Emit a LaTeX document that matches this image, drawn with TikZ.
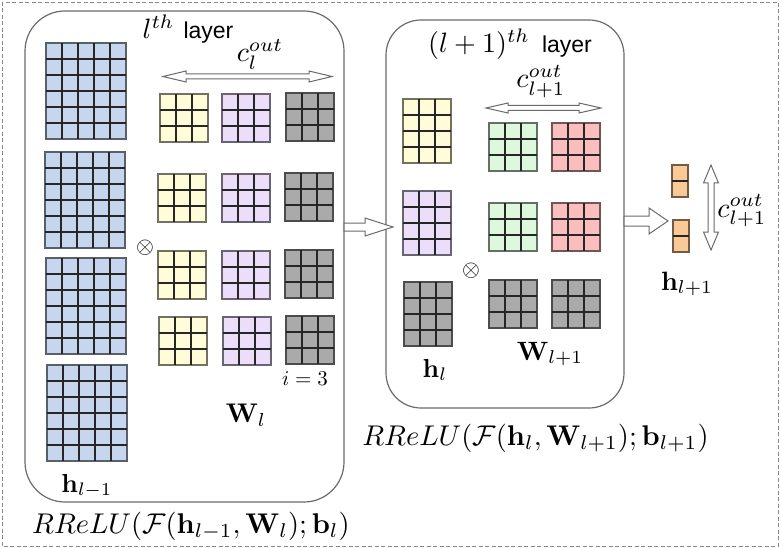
\documentclass[tikz,border=0pt]{standalone}
\usepackage[no-math]{fontspec}
\usepackage{graphicx}
\newfontfamily\hv{Liberation Sans}
\usetikzlibrary{calc}
\definecolor{cblue}{HTML}{C6D6EE}
\definecolor{cyel}{HTML}{FFFDD7}
\definecolor{cpur}{HTML}{ECDEFA}
\definecolor{cgray}{HTML}{AAAAAA}
\definecolor{cgreen}{HTML}{DDF8DC}
\definecolor{cred}{HTML}{FABEBE}
\definecolor{corange}{HTML}{FACA96}
\definecolor{frame}{HTML}{6A6A6A}
\newcommand\cellgrid[6]{%
  \node[gridbox, fill=#6, draw=#6!45!black, minimum width={16pt*#4}, minimum height={16pt*#5}, anchor=north west] (#1) at (#2,#3) {};
  \ifnum#4>1 \foreach \i in {2,...,#4} {\draw[gridline] ({#2+(\i-1)*16},#3) -- ({#2+(\i-1)*16},{#3+16*#5});}\fi
  \ifnum#5>1 \foreach \j in {2,...,#5} {\draw[gridline] (#2,{#3+(\j-1)*16}) -- ({#2+16*#4},{#3+(\j-1)*16});}\fi
}
\newcommand\Sc[2]{\scalebox{#1}{#2}}
\begin{document}
\begin{tikzpicture}[x=1pt,y=-1pt,
  gridbox/.style={inner sep=0pt, outer sep=0pt, line width=1.3pt},
  gridline/.style={line width=1.3pt, black!85},
  layerbox/.style={draw=frame, line width=1.2pt, inner sep=0pt},
  hollow/.style={draw=frame, fill=white, line width=1pt, line join=miter},
  lbl/.style={inner sep=0pt, anchor=base, font=\fontsize{10}{12}\selectfont}]
\useasboundingbox (0,0) rectangle (781,548);
\draw[frame!80, line width=0.8pt, dash pattern=on 4pt off 2.5pt] (2,2) rectangle (778,546);

% layer boxes
\draw[layerbox, rounded corners=40pt] (25,11) rectangle (344,502);
\draw[layerbox, rounded corners=35pt] (386,20) rectangle (624,408);

% left layer: input feature maps
\cellgrid{h1}{46}{43}{5}{6}{cblue}
\cellgrid{h2}{45}{152}{5}{6}{cblue}
\cellgrid{h3}{46}{258}{5}{6}{cblue}
\cellgrid{h4}{47}{365}{5}{6}{cblue}
% left layer: kernels
\cellgrid{wy1}{160}{94}{3}{3}{cyel}
\cellgrid{wy2}{158}{174}{3}{3}{cyel}
\cellgrid{wy3}{158}{251}{3}{3}{cyel}
\cellgrid{wy4}{159}{317}{3}{3}{cyel}
\cellgrid{wp1}{222}{94}{3}{3}{cpur}
\cellgrid{wp2}{222}{174}{3}{3}{cpur}
\cellgrid{wp3}{222}{251}{3}{3}{cpur}
\cellgrid{wp4}{223}{317}{3}{3}{cpur}
\cellgrid{wg1}{286}{93}{3}{3}{cgray}
\cellgrid{wg2}{285}{173}{3}{3}{cgray}
\cellgrid{wg3}{285}{250}{3}{3}{cgray}
\cellgrid{wg4}{286}{316}{3}{3}{cgray}

% right layer
\cellgrid{hy}{403}{99}{3}{4}{cyel}
\cellgrid{hp}{403}{191}{3}{4}{cpur}
\cellgrid{hg}{404}{282}{3}{4}{cgray}
\cellgrid{vg1}{489}{123}{3}{3}{cgreen}
\cellgrid{vg2}{489}{203}{3}{3}{cgreen}
\cellgrid{vr1}{552}{123}{3}{3}{cred}
\cellgrid{vr2}{552}{203}{3}{3}{cred}
\cellgrid{vk1}{489}{280}{3}{3}{cgray}
\cellgrid{vk2}{552}{280}{3}{3}{cgray}

% output
\cellgrid{o1}{672}{165}{1}{2}{corange}
\cellgrid{o2}{673}{220}{1}{2}{corange}

% hollow arrows
\draw[hollow] (344,223)--(365,223)--(365,218)--(393,227)--(365,236)--(365,231)--(344,231)--cycle;
\draw[hollow] (624,216)--(649,216)--(649,208)--(668,221)--(649,234)--(649,226)--(624,226)--cycle;
\draw[hollow] (163,76.5)--(186,71)--(186,74)--(309,74)--(309,71)--(332,76.5)--(309,82)--(309,79)--(186,79)--(186,82)--cycle;
\draw[hollow] (486,108)--(508,103)--(508,105.5)--(579,105.5)--(579,103)--(601,108)--(579,113)--(579,110.5)--(508,110.5)--(508,113)--cycle;
\draw[hollow] (711,165)--(718.5,183)--(714,183)--(714,232)--(718.5,232)--(711,250)--(703.5,232)--(708,232)--(708,183)--(703.5,183)--cycle;

% labels
\node[lbl] (t1) at (188,39) {\Sc{2.8}{$l^{th}$}\hspace{9pt}{\hv\fontsize{23}{27}\selectfont layer}};
\node[lbl] (t2) at (510,53) {\Sc{2.8}{$(l+1)^{th}$}\hspace{12pt}{\hv\fontsize{23}{27}\selectfont layer}};
\node[lbl] (c1) at (260,62) {\Sc{2.8}{$c_l^{out}$}};
\node[lbl] (c2) at (541,88) {\Sc{2.8}{$c_{l+1}^{out}$}};
\node[lbl] (c3) at (742,217) {\Sc{2.8}{$c_{l+1}^{out}$}};
\node[lbl] (lh1) at (87,492) {\Sc{2.6}{$\mathbf{h}_{l-1}$}};
\node[lbl] (lw1) at (246,422) {\Sc{2.7}{$\mathbf{W}_{l}$}};
\node[lbl] (li) at (305,385) {\Sc{2.1}{$i=3$}};
\node[lbl] (lh2) at (435,377) {\Sc{2.6}{$\mathbf{h}_{l}$}};
\node[lbl] (lw2) at (550,360) {\Sc{2.65}{$\mathbf{W}_{l+1}$}};
\node[lbl] (lh3) at (687,290) {\Sc{2.65}{$\mathbf{h}_{l+1}$}};
\node[inner sep=0pt] (x1) at (145,248) {\Sc{2.3}{$\otimes$}};
\node[inner sep=0pt] (x2) at (471,271) {\Sc{2.3}{$\otimes$}};
\node[lbl] (e1) at (191,533) {\Sc{2.85}{$RReLU(\mathcal{F}(\mathbf{h}_{l-1},\mathbf{W}_{l});\mathbf{b}_{l})$}};
\node[lbl] (e2) at (535.5,445) {\Sc{2.85}{$RReLU(\mathcal{F}(\mathbf{h}_{l},\mathbf{W}_{l+1});\mathbf{b}_{l+1})$}};
\end{tikzpicture}
\end{document}
